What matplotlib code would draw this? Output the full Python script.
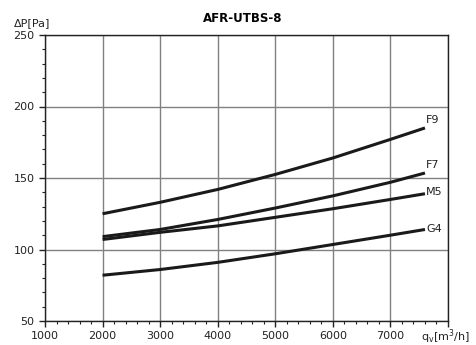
import matplotlib
matplotlib.use("Agg")
import matplotlib.pyplot as plt
from matplotlib.ticker import MultipleLocator, FuncFormatter

qv = [2000, 3000, 4000, 5000, 6000, 7000, 7600]
series = {
    "F9": [125, 133, 142, 152.5, 164, 177, 185],
    "F7": [109, 114, 121, 129, 137.5, 147, 153.5],
    "M5": [107, 112, 116.5, 122.5, 128.5, 135, 139],
    "G4": [82, 86, 91, 97, 103.5, 110, 114],
}
label_offsets = {"F9": 5.5, "F7": 6, "M5": 1, "G4": 0}
title = "AFR-UTBS-8"

plt.rcParams['font.family'] = ['DejaVu Sans']
fig = plt.figure(figsize=(4.76, 3.45), dpi=100)
ax = fig.add_axes([45/476, 1-321/345, (448-45)/476, (321-35)/345])

ax.set_xlim(1000, 8000)
ax.set_ylim(50, 250)
ax.xaxis.set_major_locator(MultipleLocator(1000))
ax.xaxis.set_minor_locator(MultipleLocator(200))
ax.xaxis.set_major_formatter(FuncFormatter(lambda v, p: "" if v >= 8000 else f"{int(v)}"))
ax.yaxis.set_major_locator(MultipleLocator(50))
ax.yaxis.set_minor_locator(MultipleLocator(10))
ax.grid(True, which='major', color='#808080', linewidth=1.0)
ax.tick_params(which='major', direction='out', length=4, width=1, labelsize=8, colors='#222222')
ax.tick_params(which='minor', direction='out', length=2.5, width=0.8, colors='#222222')
for s in ax.spines.values():
    s.set_color('#222222')
    s.set_linewidth(1.0)

for name, vals in series.items():
    ax.plot(qv, vals, color='#1a1a1a', linewidth=2.2, solid_capstyle='butt')
    ax.annotate(name, (qv[-1], vals[-1]), xytext=(1, label_offsets[name]),
                textcoords='offset points', fontsize=8, color='#222222',
                va='center', ha='left', annotation_clip=False)

fig.text(243/476, 1-18/345, title, ha='center', va='center', fontsize=8.5, fontweight='bold')
fig.text(14/476, 1-23/345, "ΔP[Pa]", ha='left', va='center', fontsize=8, color='#222222')
fig.text(421/476, 1-337/345, r"q$_\mathregular{v}$[m$^\mathregular{3}$/h]", ha='left', va='center', fontsize=8, color='#222222')

fig.savefig("out.png", dpi=100)
